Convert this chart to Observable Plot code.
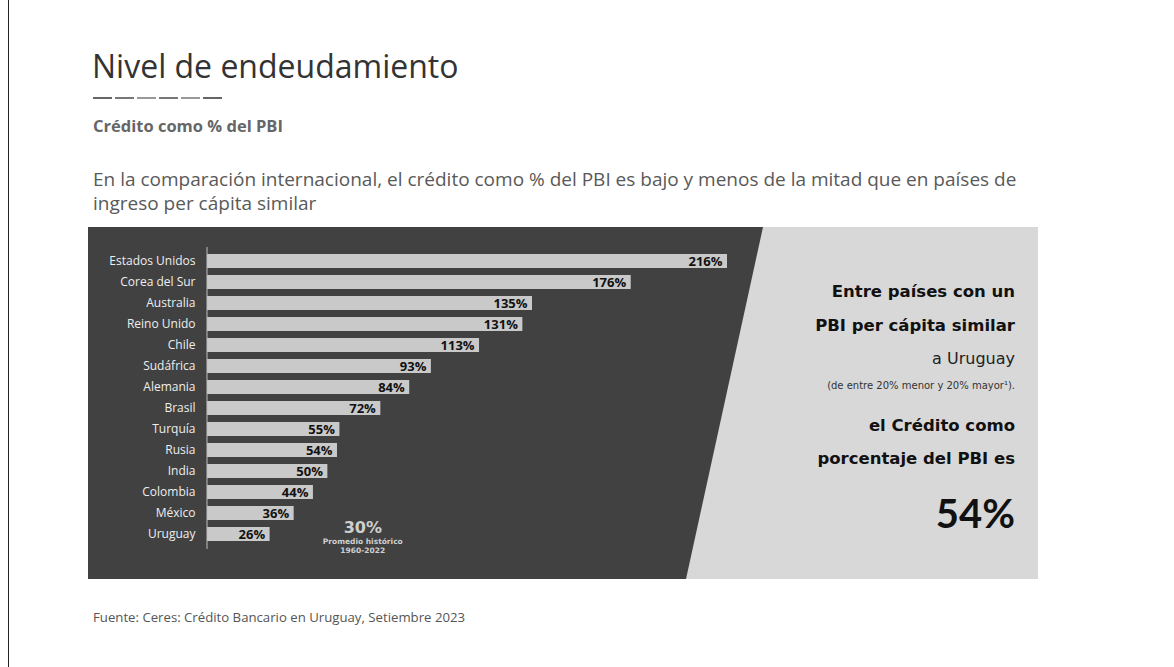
<!DOCTYPE html>
<html>
<head>
<meta charset="utf-8">
<script src="https://cdn.jsdelivr.net/npm/d3@7"></script>
<script src="https://cdn.jsdelivr.net/npm/@observablehq/plot@0.6"></script>
<style>
  html, body { margin:0; padding:0; background:#fff; }
  body { width:1174px; height:667px; position:relative; overflow:hidden; font-family:"Open Sans", sans-serif; }
  .abs { position:absolute; white-space:nowrap; }
  #vline { left:8px; top:0; width:1px; height:667px; background:#222; }
  #title { left:92px; top:46px; font-size:32px; color:#333; font-weight:400; line-height:40px; }
  #dashes { left:93px; top:97px; display:flex; gap:3px; }
  #dashes span { display:block; width:19px; height:2px; }
  #subtitle { left:93px; top:116px; font-size:16.5px; font-weight:700; color:#666; line-height:20px; }
  #desc { left:93px; top:167px; font-size:19px; color:#595959; line-height:24px; white-space:normal; width:935px; }
  #panel { left:88px; top:227px; width:950px; height:352px; background:#d8d8d8; }
  #dark { position:absolute; left:0; top:0; width:100%; height:100%; background:#414141;
          clip-path: polygon(0 0, 675px 0, 598px 100%, 0 100%); }
  #chart { position:absolute; left:0; top:0; }
  .rt { position:absolute; right:23px; text-align:right; white-space:nowrap; font-family:"DejaVu Sans", sans-serif; color:#111; line-height:1; }
  #footer { left:93px; top:608px; font-size:13.2px; color:#555; line-height:18px; }
</style>
</head>
<body>
<div id="vline" class="abs"></div>
<div id="title" class="abs"></div>
<div id="dashes" class="abs"></div>
<div id="subtitle" class="abs"></div>
<div id="desc" class="abs"></div>
<div id="panel" class="abs">
  <div id="dark"></div>
  <div id="chart"></div>
  <div id="rtext"></div>
</div>
<div id="footer" class="abs"></div>
<script>
// ---- data ----
const countries = ["Estados Unidos","Corea del Sur","Australia","Reino Unido","Chile","Sudáfrica","Alemania","Brasil","Turquía","Rusia","India","Colombia","México","Uruguay"];
const values = [216,176,135,131,113,93,84,72,55,54,50,44,36,26];
const historicalAvg = 30;
const historicalLines = ["Promedio histórico","1960-2022"];
const titleText = "Nivel de endeudamiento";
const subtitleText = "Crédito como % del PBI";
const descText = "En la comparación internacional, el crédito como % del PBI es bajo y menos de la mitad que en países de ingreso per cápita similar";
const footerText = "Fuente: Ceres: Crédito Bancario en Uruguay, Setiembre 2023";
const sideLines = [
  {t:"Entre países con un", cls:"b"},
  {t:"PBI per cápita similar", cls:"b"},
  {t:"a Uruguay", cls:"r"},
  {t:"(de entre 20% menor y 20% mayor¹).", cls:"s"},
  {t:"el Crédito como", cls:"b"},
  {t:"porcentaje del PBI es", cls:"b"},
  {t:"54%", cls:"big"}
];
const dashColors = ["#666","#777","#999","#777","#999","#666"];

// ---- header / footer ----
document.getElementById("title").textContent = titleText;
document.getElementById("subtitle").textContent = subtitleText;
document.getElementById("desc").textContent = descText;
document.getElementById("footer").textContent = footerText;
const dashes = document.getElementById("dashes");
dashColors.forEach(c => { const s = document.createElement("span"); s.style.background = c; dashes.appendChild(s); });

// ---- side text ----
const styleFor = {
  b:  {size:16.5, weight:700, color:"#111", font:"DejaVu Sans"},
  r:  {size:16, weight:400, color:"#222", font:"DejaVu Sans"},
  s:  {size:10, weight:400, color:"#333", font:"DejaVu Sans"},
  big:{size:40, weight:700, color:"#111", font:"Lato"}
};
const sideTops = [57, 91, 124, 154, 191, 224, 266]; // layout positions (px) inside panel
const rtext = document.getElementById("rtext");
sideLines.forEach((l, i) => {
  const d = document.createElement("div");
  d.className = "rt";
  const st = styleFor[l.cls];
  d.style.fontSize = st.size + "px";
  d.style.fontWeight = st.weight;
  d.style.color = st.color;
  d.style.fontFamily = st.font + ", sans-serif";
  d.style.top = sideTops[i] + "px";
  d.textContent = l.t;
  rtext.appendChild(d);
});

// ---- chart ----
const data = countries.map((c, i) => ({country: c, value: values[i]}));
const chart = Plot.plot({
  width: 950,
  height: 352,
  marginLeft: 119,
  marginRight: 311,
  marginTop: 20,
  marginBottom: 30,
  style: {background: "transparent", fontFamily: "Open Sans, sans-serif", overflow: "visible"},
  x: {domain: [0, 216], range: [119, 639], axis: null},
  y: {domain: countries, range: [16.5, 325], padding: 0.35, axis: null},
  marks: [
    Plot.barX(data, {x: "value", y: "country", fill: "#c9c9c9"}),
    Plot.ruleX([0], {stroke: "#c0c0c0", strokeWidth: 1, dx: -0.5}),
    Plot.axisY({anchor: "left", tickSize: 0, tickPadding: 12, fontSize: 12, fontWeight: 500, fill: "#eeeeee", label: null}),
    Plot.text(data, {x: "value", y: "country", text: d => d.value + "%", textAnchor: "end", dx: -5, fontWeight: "bold", fontSize: 13, fill: "#111"}),
    Plot.text([historicalAvg], {x: () => 64.5, y: () => "Uruguay", text: d => d + "%", dy: -7, fontSize: 16, fontWeight: "bold", fill: "#d0d0d0", fontFamily: "DejaVu Sans, sans-serif"}),
    Plot.text([historicalLines[0]], {x: () => 64.5, y: () => "Uruguay", text: d => d, dy: 7, fontSize: 7.5, fontWeight: "bold", fill: "#cfcfcf", fontFamily: "DejaVu Sans, sans-serif"}),
    Plot.text([historicalLines[1]], {x: () => 64.5, y: () => "Uruguay", text: d => d, dy: 16, fontSize: 7.5, fontWeight: "bold", fill: "#cfcfcf", fontFamily: "DejaVu Sans, sans-serif"})
  ]
});
document.getElementById("chart").appendChild(chart);
</script>
</body>
</html>
